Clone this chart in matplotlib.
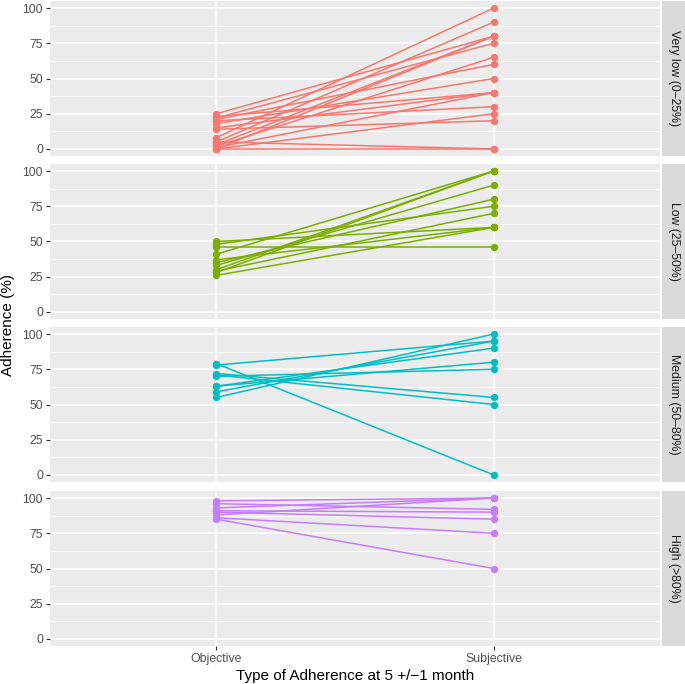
import numpy as np
import matplotlib
matplotlib.use("Agg")
import matplotlib.pyplot as plt
from matplotlib.patches import Rectangle

plt.rcParams["font.family"] = ["Liberation Sans", "DejaVu Sans"]

groups = ["Very low (0\u201325%)", "Low (25\u201350%)", "Medium (50\u201380%)", "High (>80%)"]
colors = ["#F8766D", "#7CAE00", "#00BFC4", "#C77CFF"]
categories = ["Objective", "Subjective"]

very_low_obj = [25, 23, 22, 21, 20, 18, 15, 14, 8, 5, 3, 2, 1, 0, 0, 5, 0]
very_low_subj = [80, 40, 75, 60, 30, 50, 40, 20, 100, 90, 80, 65, 40, 25, 0, 0, 80]
low_obj = [50, 48, 46, 41, 37, 35, 33, 30, 29, 28, 26]
low_subj = [60, 75, 46, 100, 60, 80, 90, 100, 70, 100, 60]
medium_obj = [79, 78, 72, 71, 70, 63, 59, 55, 63]
medium_subj = [0, 95, 55, 50, 75, 90, 95, 100, 80]
high_obj = [98, 96, 93, 91, 90, 88, 86, 85]
high_subj = [100, 92, 100, 90, 85, 100, 75, 50]

obj_vals = [very_low_obj, low_obj, medium_obj, high_obj]
subj_vals = [very_low_subj, low_subj, medium_subj, high_subj]

W, H = 685, 684
fig = plt.figure(figsize=(W / 100, H / 100), dpi=100)

left, right = 50, 660
tops = [1, 164, 327, 491]
ph = 155
strip_w = 23

for i in range(4):
    y0 = 1 - (tops[i] + ph) / H
    ax = fig.add_axes([left / W, y0, (right - left) / W, ph / H])
    ax.set_facecolor("#EBEBEB")
    for s in ax.spines.values():
        s.set_visible(False)
    ax.set_xlim(0.4, 2.6)
    ax.set_ylim(-5, 105)
    ax.set_yticks([0, 25, 50, 75, 100])
    ax.set_yticks([12.5, 37.5, 62.5, 87.5], minor=True)
    ax.set_xticks([1, 2])
    ax.grid(True, which="major", color="white", linewidth=1.1)
    ax.grid(True, which="minor", axis="y", color="white", linewidth=0.55)
    ax.set_axisbelow(True)
    ax.tick_params(axis="both", which="major", length=3, width=0.8, color="#333333",
                   labelsize=8.8, labelcolor="#4D4D4D", pad=2)
    ax.tick_params(axis="both", which="minor", length=0)
    if i < 3:
        ax.set_xticklabels([])
        ax.tick_params(axis="x", length=0)
    else:
        ax.set_xticklabels(categories)
    for o, s in zip(obj_vals[i], subj_vals[i]):
        ax.plot([1, 2], [o, s], color=colors[i], linewidth=1.1, zorder=2)
    ax.scatter([1] * len(obj_vals[i]), obj_vals[i], color=colors[i], s=28, zorder=3, linewidths=0)
    ax.scatter([2] * len(subj_vals[i]), subj_vals[i], color=colors[i], s=28, zorder=3, linewidths=0)

    # facet strip
    sax = fig.add_axes([(right + 2) / W, y0, strip_w / W, ph / H])
    sax.set_xlim(0, 1)
    sax.set_ylim(0, 1)
    sax.axis("off")
    sax.add_patch(Rectangle((0, 0), 1, 1, color="#D9D9D9", transform=sax.transAxes))
    sax.text(0.5, 0.5, groups[i], rotation=270, ha="center", va="center",
             fontsize=8.8, color="#1A1A1A")

fig.text(8 / W, 1 - 325 / H, "Adherence (%)", rotation=90, ha="center", va="center",
         fontsize=11, color="black")
fig.text((left + right) / 2 / W, 1 - 676 / H, "Type of Adherence at 5 +/\u22121 month",
         ha="center", va="center", fontsize=11, color="black")

fig.savefig("out.png", dpi=100)
